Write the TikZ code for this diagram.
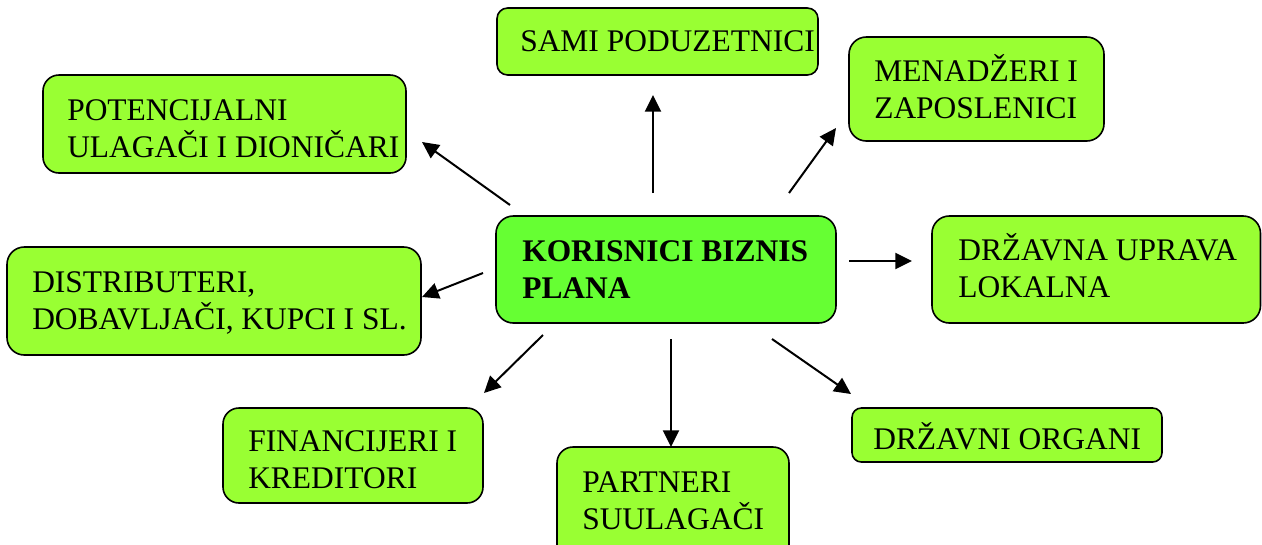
\documentclass[tikz,border=0pt]{standalone}
\usepackage{fontspec}
\setmainfont{Liberation Serif}
\usetikzlibrary{arrows.meta}
\definecolor{boxgreen}{RGB}{153,255,51}
\definecolor{centergreen}{RGB}{102,255,51}
\tikzset{
  boxshape/.style={draw=black, line width=1.2pt, fill=boxgreen, rectangle},
  centershape/.style={boxshape, fill=centergreen},
  boxtext/.style={inner sep=0pt, anchor=base west, align=left,
    font=\fontsize{23.6}{27.75}\selectfont},
  centertext/.style={boxtext, font=\fontsize{23.6}{27.75}\selectfont\bfseries},
  conn/.style={line width=1.5pt, -{Triangle[length=12.5pt,width=12pt]}}
}
\begin{document}
\begin{tikzpicture}[x=0.75pt,y=-0.75pt]
\useasboundingbox (0,0) rectangle (1262,544);
\clip (0,0) rectangle (1262,544);
% boxes (two-line text nodes are placed at the baseline of their last line)
\draw[boxshape, rounded corners=8pt] (497,8) rectangle (818,75);
\node[boxtext] (sami) at (520,51) {SAMI PODUZETNICI};
\draw[boxshape, rounded corners=12pt] (43,75) rectangle (406,173);
\node[boxtext] (pot) at (67,157) {POTENCIJALNI\\ULAGAČI I DIONIČARI};
\draw[boxshape, rounded corners=13pt] (7,247) rectangle (421,355);
\node[boxtext] (dist) at (32,329) {DISTRIBUTERI,\\DOBAVLJAČI, KUPCI I SL.};
\draw[boxshape, rounded corners=13pt] (849,37) rectangle (1104,141);
\node[boxtext] (men) at (874,118) {MENADŽERI I\\ZAPOSLENICI};
\draw[boxshape, rounded corners=13pt] (932,216) rectangle (1260.5,323);
\node[boxtext] (upr) at (958,297) {DRŽAVNA UPRAVA\\LOKALNA};
\draw[centershape, rounded corners=13pt] (496,216) rectangle (836,323);
\node[centertext] (cen) at (522,298) {KORISNICI BIZNIS\\PLANA};
\draw[boxshape, rounded corners=12pt] (223,408) rectangle (483,503);
\node[boxtext] (fin) at (248,488) {FINANCIJERI I\\KREDITORI};
\draw[boxshape, rounded corners=12pt] (557,447) rectangle (789,570);
\node[boxtext] (par) at (582,529) {PARTNERI\\SUULAGAČI};
\draw[boxshape, rounded corners=7pt] (852,408) rectangle (1162,462);
\node[boxtext] (org) at (873,449) {DRŽAVNI ORGANI};
% connector end points
\coordinate (s1) at (653,193); \coordinate (e1) at (653,95);
\coordinate (s2) at (510,205); \coordinate (e2) at (422,142);
\coordinate (s3) at (483,273); \coordinate (e3) at (422,297);
\coordinate (s4) at (789,193); \coordinate (e4) at (836,128);
\coordinate (s5) at (849,261); \coordinate (e5) at (912,261);
\coordinate (s6) at (543,335); \coordinate (e6) at (484,393);
\coordinate (s7) at (671,339); \coordinate (e7) at (671,447);
\coordinate (s8) at (772,339); \coordinate (e8) at (851,394);
\foreach \i in {1,...,8} { \draw[conn] (s\i) -- (e\i); }
\end{tikzpicture}
\end{document}
